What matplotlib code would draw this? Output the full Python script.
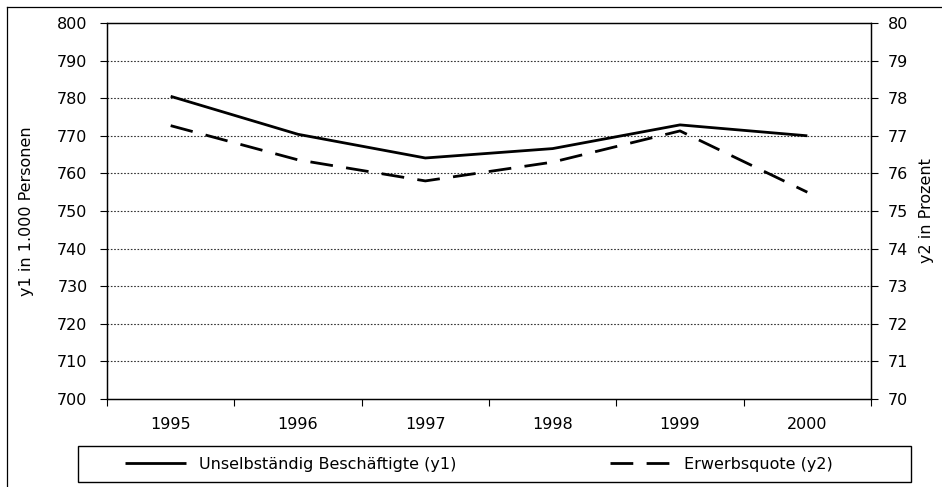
import matplotlib
matplotlib.use("Agg")
import matplotlib.pyplot as plt
from matplotlib.lines import Line2D
from matplotlib.patches import Rectangle
import numpy as np

years = ["1995", "1996", "1997", "1998", "1999", "2000"]
beschaeftigte = [780.5, 770.4, 764.1, 766.6, 772.9, 770.0]
erwerbsquote = [77.27, 76.36, 75.80, 76.30, 77.13, 75.50]
y1_ticks = [700, 710, 720, 730, 740, 750, 760, 770, 780, 790, 800]
y2_ticks = [70, 71, 72, 73, 74, 75, 76, 77, 78, 79, 80]
series_names = ["Unselbständig Beschäftigte (y1)", "Erwerbsquote (y2)"]

plt.rcParams['font.family'] = ['DejaVu Sans']
FS = 11.5

W, H = 942, 487
fig = plt.figure(figsize=(W / 100, H / 100), dpi=100)
ax = fig.add_axes([107 / W, 1 - 399 / H, (871 - 107) / W, (399 - 23) / H])
ax2 = ax.twinx()

x = np.arange(len(years))
l1, = ax.plot(x, beschaeftigte, color='black', lw=2.0, solid_capstyle='butt',
              solid_joinstyle='miter')
l2, = ax2.plot(x, erwerbsquote, color='black', lw=2.0, dashes=(8.2, 4.8),
               dash_capstyle='butt')

ax.set_xlim(-0.5, len(years) - 0.5)
ax.set_ylim(700, 800)
ax2.set_ylim(70, 80)
ax.set_yticks(y1_ticks)
ax2.set_yticks(y2_ticks)
ax.set_yticklabels([str(v) for v in y1_ticks], fontsize=FS)
ax2.set_yticklabels([str(v) for v in y2_ticks], fontsize=FS)

ax.set_xticks(np.arange(len(years) + 1) - 0.5)
ax.set_xticklabels([])
ax.set_xticks(x, minor=True)
ax.set_xticklabels(years, minor=True, fontsize=FS)
ax.tick_params(axis='x', which='major', length=5, width=0.8, direction='out')
ax.tick_params(axis='x', which='minor', length=0, pad=13)
ax.tick_params(axis='y', length=5, width=0.8, direction='out', pad=9)
ax2.tick_params(axis='y', length=5, width=0.8, direction='out', pad=7)

for y in y1_ticks[1:-1]:
    ax.axhline(y, color='#333333', lw=0.8, ls=(0, (1.5, 1.5)), zorder=0)

for a in (ax, ax2):
    for s in a.spines.values():
        s.set_linewidth(0.9)
        s.set_color('black')

fig.text(27 / W, 1 - 211 / H, "y1 in 1.000 Personen", rotation=90,
         ha='center', va='center', fontsize=FS)
fig.text(926 / W, 1 - 211 / H, "y2 in Prozent", rotation=90,
         ha='center', va='center', fontsize=FS)

# legend box
fig.patches.append(Rectangle((78 / W, 1 - 482 / H), (911 - 78) / W, 36 / H,
                             transform=fig.transFigure, fill=False,
                             edgecolor='black', lw=1.0))
common = dict(loc='center left', frameon=False, fontsize=FS, handlelength=3.8,
              handletextpad=0.85, borderpad=0, borderaxespad=0)
fig.legend([l1], [series_names[0]], bbox_to_anchor=(125 / W, 1 - 464 / H), **common)
fig.legend([l2], [series_names[1]], bbox_to_anchor=(610 / W, 1 - 464 / H), **common)

# outer border (left and top)
fig.add_artist(Line2D([7 / W, 7 / W], [0, 1 - 7 / H], transform=fig.transFigure,
                      color='black', lw=0.9))
fig.add_artist(Line2D([7 / W, 1], [1 - 7 / H, 1 - 7 / H], transform=fig.transFigure,
                      color='black', lw=0.9))

fig.savefig("out.png", dpi=100)
